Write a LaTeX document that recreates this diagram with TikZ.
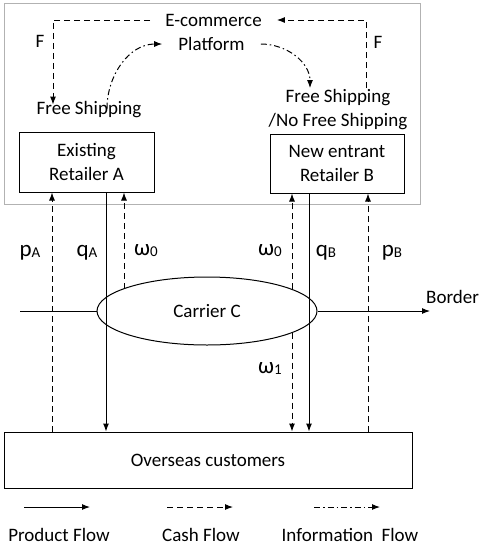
\documentclass[tikz,border=0pt]{standalone}
\usepackage{fontspec}
\setmainfont{Carlito}
\usetikzlibrary{shapes.geometric, arrows.meta}
\newcommand{\lowsub}[1]{\raisebox{-1pt}{\fontsize{15}{15}\selectfont #1}}
\begin{document}
\begin{tikzpicture}[x=1pt, y=-1pt,
		every node/.style={font=\fontsize{19}{24}\selectfont},
		prodflow/.style={draw=black, -{Latex[length=8pt, width=6pt]}, line width=1pt, solid},
		cashflow/.style={draw=black, -{Latex[length=8pt, width=6pt]}, line width=1pt, dash pattern=on 6pt off 4pt},
		infoflow/.style={draw=black, -{Latex[length=8pt, width=6pt]}, line width=1pt, dash pattern=on 6pt off 3pt on 1.5pt off 3pt},
		actor/.style={draw=black, line width=1pt, align=center, inner sep=0pt},
		lbl/.style={black, inner sep=1pt, align=center},
		flowlbl/.style={black, inner sep=1pt, font=\fontsize{23}{23}\selectfont}]
		\useasboundingbox (0,0) rectangle (484,550);
		\node (frame) [draw=gray!60, line width=1pt, minimum width=416pt, minimum height=201pt, inner sep=0pt] at (212,103.5) {};
		\node (ecom) [lbl, inner xsep=15pt] at (213.5,20) {E-commerce};
		\node (plat) [lbl, inner xsep=16pt] at (211.5,44) {Platform};
		\node (freeA) [lbl] at (89,110) {Free Shipping};
		\node (freeB) [lbl] at (338,109.5) {Free Shipping\\/No Free Shipping};
		\node (retA) [actor, minimum width=135pt, minimum height=60pt] at (86.5,162) {Existing\\Retailer A};
		\node (retB) [actor, minimum width=134pt, minimum height=59pt] at (337,163.5) {New entrant\\Retailer B};
		\node (carrier) [ellipse, draw=black, line width=1pt, minimum width=220pt, minimum height=68pt, inner sep=0pt] at (207,311) {Carrier C};
		\node (cust) [actor, minimum width=408pt, minimum height=56pt] at (208,460) {Overseas customers};
		\draw[cashflow] (ecom.west) -| ([xshift=-36pt,yshift=-4pt]freeA.north);
		\draw[infoflow] ([xshift=18pt,yshift=-8pt]freeA.north) to[out=90, in=180] (plat.west);
		\draw[cashflow] ([xshift=28pt]freeB.north) |- (ecom.east);
		\draw[infoflow] (plat.east) to[out=0, in=90] ([xshift=-28pt]freeB.north);
		\coordinate (pAtop) at ([xshift=-34.5pt]retA.south);
		\coordinate (qAtop) at ([xshift=19.5pt]retA.south);
		\coordinate (wAtop) at ([xshift=37.5pt]retA.south);
		\coordinate (wBtop) at ([xshift=-45pt]retB.south);
		\coordinate (qBtop) at ([xshift=-28pt]retB.south);
		\coordinate (pBtop) at ([xshift=31pt]retB.south);
		\draw[cashflow] (pAtop |- cust.north) -- (pAtop);
		\draw[prodflow] (qAtop) -- (qAtop |- cust.north);
		\draw[cashflow] ([xshift=-83pt,yshift=22.3pt]carrier.center) -- (wAtop);
		\draw[cashflow] ([xshift=85pt,yshift=21.6pt]carrier.center) -- (wBtop);
		\draw[cashflow] ([xshift=85pt,yshift=-21.6pt]carrier.center) -- (wBtop |- cust.north);
		\draw[prodflow] (qBtop) -- (qBtop |- cust.north);
		\draw[cashflow] (pBtop |- cust.north) -- (pBtop);
		\coordinate (bstart) at (20,311);
		\coordinate (bend) at (430,311);
		\draw[draw=black, line width=1pt] (bstart) -- (carrier.west);
		\draw[prodflow] (carrier.east) -- (bend);
		\node (border) [lbl, anchor=west] at (425,297) {Border};
		\node (pAlbl) [flowlbl] at (30,253) {p\lowsub{A}};
		\node (qAlbl) [flowlbl] at (87,253) {q\lowsub{A}};
		\node (wAlbl) [flowlbl] at (146,251) {ω\lowsub{0}};
		\node (wBlbl) [flowlbl] at (270,251) {ω\lowsub{0}};
		\node (qBlbl) [flowlbl] at (326,253) {q\lowsub{B}};
		\node (pBlbl) [flowlbl] at (392,253) {p\lowsub{B}};
		\node (w1lbl) [flowlbl] at (270,369) {ω\lowsub{1}};
		\node (Fleft) [lbl] at (40,41) {F};
		\node (Fright) [lbl] at (378,42) {F};
		\coordinate (prodS) at (24,507);
		\coordinate (prodE) at (90,507);
		\coordinate (cashS) at (167,507);
		\coordinate (cashE) at (233,507);
		\coordinate (infoS) at (314,507);
		\coordinate (infoE) at (380,507);
		\draw[prodflow] (prodS) -- (prodE);
		\draw[cashflow] (cashS) -- (cashE);
		\draw[infoflow] (infoS) -- (infoE);
		\node (prodlbl) [lbl] at (59,535) {Product Flow};
		\node (cashlbl) [lbl] at (201,535) {Cash Flow};
		\node (infolbl) [lbl] at (350,535) {Information\ \ Flow};
	\end{tikzpicture}
\end{document}
